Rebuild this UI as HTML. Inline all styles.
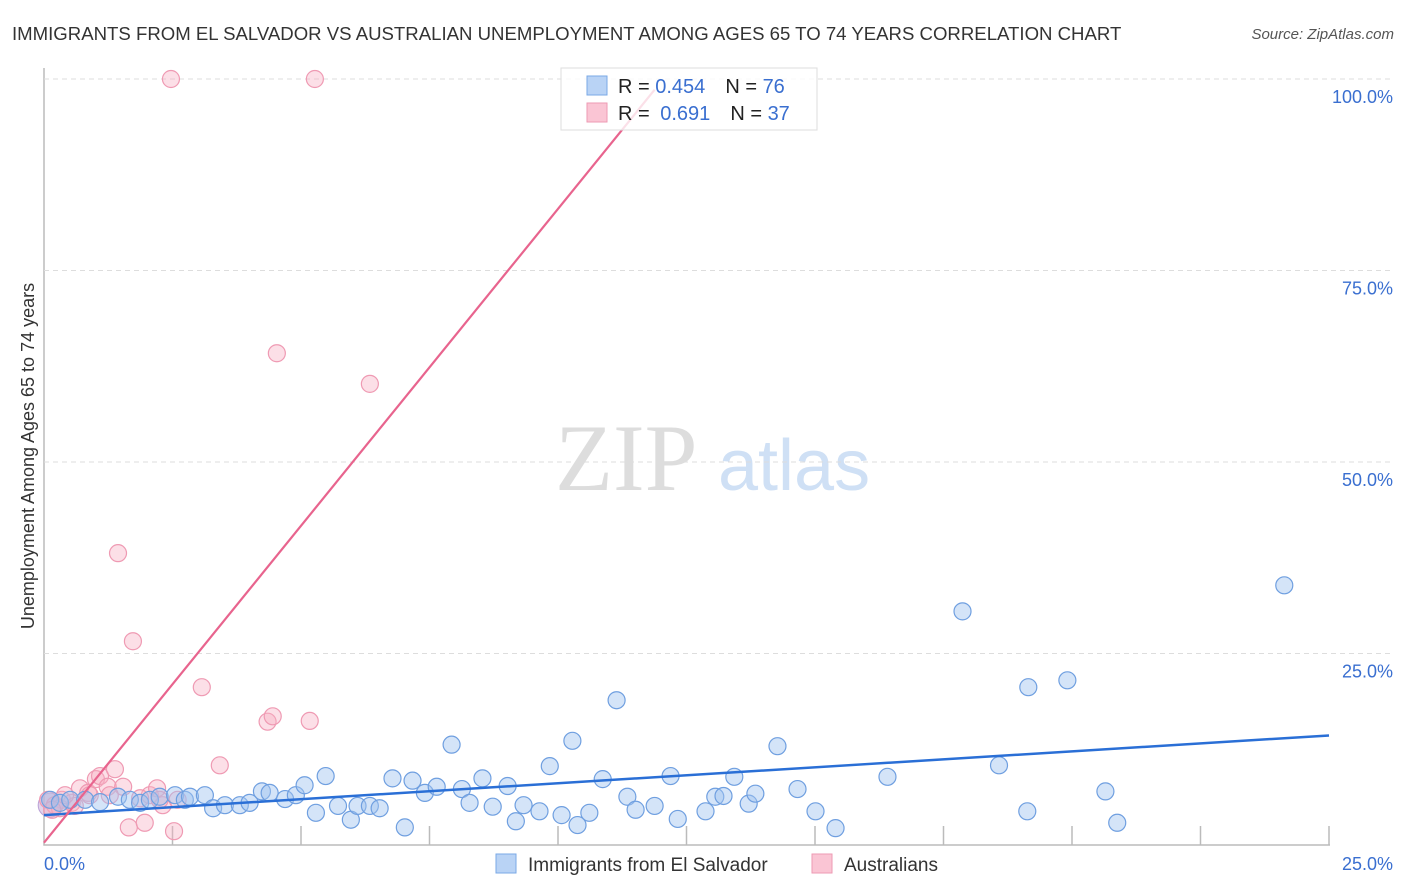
<!DOCTYPE html>
<html><head><meta charset="utf-8"><style>
body{margin:0;background:#fff;font-family:"Liberation Sans",sans-serif}
svg{display:block}
</style></head><body>
<svg id="c" width="1406" height="892">
<text x="12" y="40" font-size="18.6" fill="#333">IMMIGRANTS FROM EL SALVADOR VS AUSTRALIAN UNEMPLOYMENT AMONG AGES 65 TO 74 YEARS CORRELATION CHART</text>
<text x="1394" y="39" font-size="15" fill="#555" font-style="italic" text-anchor="end">Source: ZipAtlas.com</text>
<text x="34" y="456" font-size="18" fill="#333" text-anchor="middle" transform="rotate(-90 34 456)">Unemployment Among Ages 65 to 74 years</text>
<g>
<text x="555" y="490" font-size="95" fill="#ddd" font-family="Liberation Serif,serif">ZIP</text>
<text x="718" y="490" font-size="72" fill="#cfe0f5">atlas</text>
</g>
<g id="grid"></g>
<g id="pts"></g>
<g id="lines"></g>
<g>
<rect x="561" y="68" width="256" height="62" fill="rgba(255,255,255,0.8)" stroke="#ddd"/>
<rect x="587" y="76" width="20" height="19" fill="#b9d3f5" stroke="#7aa8e6"/>
<rect x="587" y="103" width="20" height="19" fill="#fac5d4" stroke="#ee9ab3"/>
<text x="618" y="93" font-size="20" fill="#222">R = <tspan fill="#3a6fd0">0.454</tspan><tspan dx="20">N = </tspan><tspan fill="#3a6fd0">76</tspan></text>
<text x="618" y="120" font-size="20" fill="#222">R = <tspan dx="5" fill="#3a6fd0">0.691</tspan><tspan dx="20">N = </tspan><tspan fill="#3a6fd0">37</tspan></text>
</g>
<g>
<rect x="496" y="854" width="20" height="19" fill="#b9d3f5" stroke="#7aa8e6"/>
<text x="528" y="871" font-size="19" fill="#333">Immigrants from El Salvador</text>
<rect x="812" y="854" width="20" height="19" fill="#fac5d4" stroke="#ee9ab3"/>
<text x="844" y="871" font-size="19" fill="#333">Australians</text>
</g>
</svg>
<script>
const xTicks=[0,2.5,5,7.5,10,12.5,15,17.5,20,22.5,25];
const yTicks=[25,50,75,100];
const yTickLabels=["25.0%","50.0%","75.0%","100.0%"];
const blueX=[0.12,0.31,0.51,0.80,1.09,1.44,1.67,1.87,2.06,2.25,2.55,2.74,2.84,3.13,3.29,3.52,3.81,4.00,4.24,4.39,4.69,4.90,5.07,5.29,5.48,5.72,5.97,6.10,6.34,6.53,6.78,7.02,7.17,7.41,7.64,7.93,8.13,8.28,8.53,8.73,9.02,9.18,9.33,9.64,9.84,10.07,10.28,10.38,10.61,10.87,11.14,11.35,11.51,11.88,12.19,12.33,12.87,13.06,13.22,13.43,13.71,13.84,14.27,14.66,15.01,15.40,16.41,17.87,18.58,19.13,19.15,19.91,20.65,20.88,24.13];
const blueY=[5.9,5.5,5.9,5.9,5.6,6.3,5.9,5.5,5.9,6.3,6.5,5.9,6.3,6.5,4.8,5.2,5.2,5.5,7.0,6.8,6.0,6.5,7.8,4.2,9.0,5.1,3.3,5.1,5.1,4.8,8.7,2.3,8.4,6.8,7.6,13.1,7.3,5.5,8.7,5.0,7.7,3.1,5.2,4.4,10.3,3.9,13.6,2.6,4.2,8.6,18.9,6.3,4.6,5.1,9.0,3.4,4.4,6.3,6.4,8.9,5.4,6.7,12.9,7.3,4.4,2.2,8.9,30.5,10.4,4.4,20.6,21.5,7.0,2.9,33.9];
const pinkX=[0.08,0.21,0.35,0.54,0.70,0.86,1.01,1.09,1.24,1.38,1.44,1.54,1.65,1.73,1.96,2.06,2.20,2.31,2.47,2.53,2.60,3.07,3.42,4.35,4.45,4.53,5.17,5.27,6.34,0.31,0.60,0.89,1.28,2.25,1.87,0.41,0.16];
const pinkY=[5.9,5.2,5.9,5.5,7.4,6.8,8.6,9.0,7.6,9.9,38.1,7.6,2.3,26.6,2.9,6.5,7.4,5.2,100,1.8,5.9,20.6,10.4,16.1,16.8,64.2,16.2,100,60.2,4.8,5.1,6.5,6.5,5.9,6.1,6.5,4.6];
const blueLine=[[0,3.9],[25,14.3]];
const pinkLine=[[0,0.3],[11.88,98.6]];
const NS="http://www.w3.org/2000/svg";
const X=v=>44+v*51.4, Y=v=>845-v*7.66;
function mk(p,t,a){const e=document.createElementNS(NS,t);for(const k in a)e.setAttribute(k,a[k]);p.appendChild(e);return e;}
const g=document.getElementById('grid');
const ax=mk(g,'path',{d:`M44 68V845H1330`,stroke:'#bbb',fill:'none','stroke-width':1.5});


yTicks.forEach((t,i)=>{
 const l=mk(g,'line',{x1:44,x2:1394,y1:Y(t),y2:Y(t),stroke:'#ddd','stroke-dasharray':'5,4'});
 
 
 const tx=mk(g,'text',{x:1393,y:Y(t)+24,'font-size':18,fill:'#3a6fd0','text-anchor':'end'});tx.textContent=yTickLabels[i];
 
 
});
xTicks.forEach((t,i)=>{if(i==0)return;
 const l=mk(g,'line',{x1:X(t),x2:X(t),y1:845,y2:826,stroke:'#bbb','stroke-width':1.5});
 
 
});
[[0,"0.0%","start",44],[25,"25.0%","end",1393]].forEach(a=>{const t=mk(g,'text',{x:a[3],y:870,'font-size':18,fill:'#3a6fd0','text-anchor':a[2]});t.textContent=a[1];
 
 });
const p=document.getElementById('pts');
const big=mk(p,'circle',{cx:X(0.12),cy:Y(5.2),r:12,fill:'rgba(190,160,210,0.45)',stroke:'#b9a0d6'});


pinkX.forEach((x,i)=>{const c=mk(p,'circle',{cx:X(x),cy:Y(pinkY[i]),r:8.5,fill:'rgba(248,175,196,0.4)',stroke:'#ef9ab3','stroke-width':1.2});
 
 });
blueX.forEach((x,i)=>{const c=mk(p,'circle',{cx:X(x),cy:Y(blueY[i]),r:8.5,fill:'rgba(160,196,240,0.45)',stroke:'#6f9fe0','stroke-width':1.2});
 
 });
const L=document.getElementById('lines');
const bl=mk(L,'line',{x1:X(blueLine[0][0]),y1:Y(blueLine[0][1]),x2:X(blueLine[1][0]),y2:Y(blueLine[1][1]),stroke:'#2a6fd6','stroke-width':2.5});


const pl=mk(L,'line',{x1:X(pinkLine[0][0]),y1:Y(pinkLine[0][1]),x2:X(pinkLine[1][0]),y2:Y(pinkLine[1][1]),stroke:'#e8648e','stroke-width':2.2});


</script>
</body></html>
